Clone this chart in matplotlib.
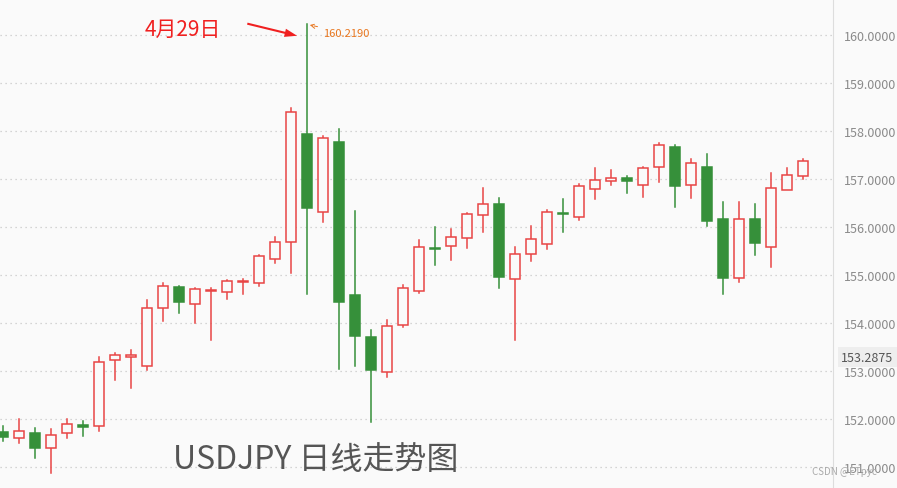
import matplotlib
matplotlib.use("Agg")
import matplotlib.pyplot as plt
from matplotlib.patches import Rectangle

plt.rcParams['font.family'] = ['Noto Sans CJK SC', 'DejaVu Sans']

opens = [151.73, 151.60, 151.71, 151.40, 151.71, 151.87, 151.85, 153.23, 153.29, 153.10,
         154.31, 154.75, 154.40, 154.67, 154.65, 154.86, 154.83, 155.33, 155.69, 157.94,
         156.31, 157.77, 154.58, 153.71, 152.98, 153.96, 154.67, 155.56, 155.60, 155.77,
         156.25, 156.48, 154.92, 155.44, 155.65, 156.29, 156.21, 156.79, 156.96, 157.02,
         156.88, 157.25, 157.67, 156.88, 157.25, 156.17, 154.94, 156.17, 155.58, 156.77,
         157.06]
closes = [151.62, 151.75, 151.40, 151.67, 151.90, 151.84, 153.19, 153.33, 153.33, 154.31,
          154.77, 154.44, 154.71, 154.69, 154.88, 154.88, 155.40, 155.69, 158.40, 156.40,
          157.85, 154.44, 153.73, 153.02, 153.94, 154.73, 155.58, 155.54, 155.79, 156.27,
          156.48, 154.96, 155.44, 155.75, 156.31, 156.27, 156.85, 156.98, 157.02, 156.96,
          157.23, 157.71, 156.85, 157.33, 156.13, 154.94, 156.17, 155.67, 156.81, 157.08,
          157.38]
highs = [151.85, 152.00, 151.81, 151.79, 152.00, 151.96, 153.29, 153.37, 153.44, 154.48,
         154.83, 154.77, 154.73, 154.73, 154.90, 154.92, 155.42, 155.79, 158.48, 160.219,
         157.90, 158.04, 156.33, 153.85, 154.06, 154.79, 155.73, 156.00, 155.96, 156.29,
         156.81, 156.60, 155.58, 156.02, 156.35, 156.58, 156.90, 157.23, 157.19, 157.06,
         157.25, 157.75, 157.71, 157.42, 157.52, 156.52, 156.52, 156.48, 157.13, 157.23,
         157.42]
lows = [151.54, 151.50, 151.19, 150.87, 151.60, 151.65, 151.75, 152.81, 152.65, 153.02,
        154.04, 154.21, 154.00, 153.65, 154.50, 154.60, 154.77, 155.25, 155.04, 154.60,
        156.10, 153.04, 153.10, 151.94, 152.88, 153.92, 154.63, 155.21, 155.31, 155.56,
        155.90, 154.73, 153.65, 155.29, 155.54, 155.90, 156.15, 156.58, 156.88, 156.71,
        156.63, 156.94, 156.42, 156.60, 156.02, 154.60, 154.85, 155.42, 155.17, 156.77,
        157.00]
yticks = [151, 152, 153, 154, 155, 156, 157, 158, 159, 160]
current_price = 153.2875
peak_label = "160.2190"

RED = "#e84545"
GREEN = "#36903a"

fig = plt.figure(figsize=(8.97, 4.89), dpi=100, facecolor="#fafafa")
ax = fig.add_axes([0, 0, 833 / 897, 1])
ax.set_facecolor("#fafafa")

w = 0.66
for i, (o, c, h, l) in enumerate(zip(opens, closes, highs, lows)):
    up = c >= o
    col = RED if up else GREEN
    lo, hi = min(o, c), max(o, c)
    ax.plot([i, i], [hi, h], color=col, lw=1.1, zorder=2)
    ax.plot([i, i], [l, lo], color=col, lw=1.1, zorder=2)
    body = max(hi - lo, 0.02)
    if up:
        ax.add_patch(Rectangle((i - w / 2, lo), w, body, facecolor="#fafafa",
                               edgecolor=col, lw=1.1, zorder=3))
    else:
        ax.add_patch(Rectangle((i - w / 2, lo), w, body, facecolor=col,
                               edgecolor=col, lw=1.1, zorder=3))

ax.set_xlim(-0.1875, 51.875)
ax.set_ylim(150.56, 160.75)
for t in yticks:
    ax.axhline(t, color="#c8c8c8", lw=0.9, ls=(0, (1, 3)), zorder=1)

ax.yaxis.tick_right()
ax.set_yticks(yticks)
ax.set_yticklabels([f"{t:.4f}" for t in yticks], fontsize=9, color="#8a8a8a")
ax.tick_params(axis="y", length=0, pad=8)
ax.set_xticks([])
for s in ["left", "bottom", "top"]:
    ax.spines[s].set_visible(False)
ax.spines["right"].set_color("#dddddd")

ax.text(1.01, current_price, f"{current_price:.4f}", transform=ax.get_yaxis_transform(),
        fontsize=9, color="#555555", va="center", ha="left",
        bbox=dict(boxstyle="square,pad=0.25", fc="#eeeeee", ec="none"))

# peak annotation
pk = highs.index(max(highs))
ax.annotate(peak_label, xy=(pk, highs[pk]), xytext=(pk + 1.0, 160.05),
            fontsize=8, color="#e8761e", va="center",
            arrowprops=dict(arrowstyle="->", color="#e8761e", lw=0.7, ls="--"))
fig.text(145 / 897, 1 - 30 / 489, "4月29日", fontsize=15, color="#f02020", va="center")
ax.annotate("", xy=(pk - 0.45, 159.97), xytext=(pk - 3.9, 160.25),
            arrowprops=dict(arrowstyle="simple,head_width=0.6,head_length=0.9,tail_width=0.15",
                            color="#f02020", lw=0))

fig.text(173 / 897, 1 - 460 / 489, "USDJPY 日线走势图", fontsize=23, color="#555555", va="center")
fig.text(812 / 897, 1 - 472 / 489, "CSDN @ETpyc", fontsize=7, color="#aaaaaa", va="center")

fig.savefig("out.png", dpi=100, facecolor=fig.get_facecolor())
